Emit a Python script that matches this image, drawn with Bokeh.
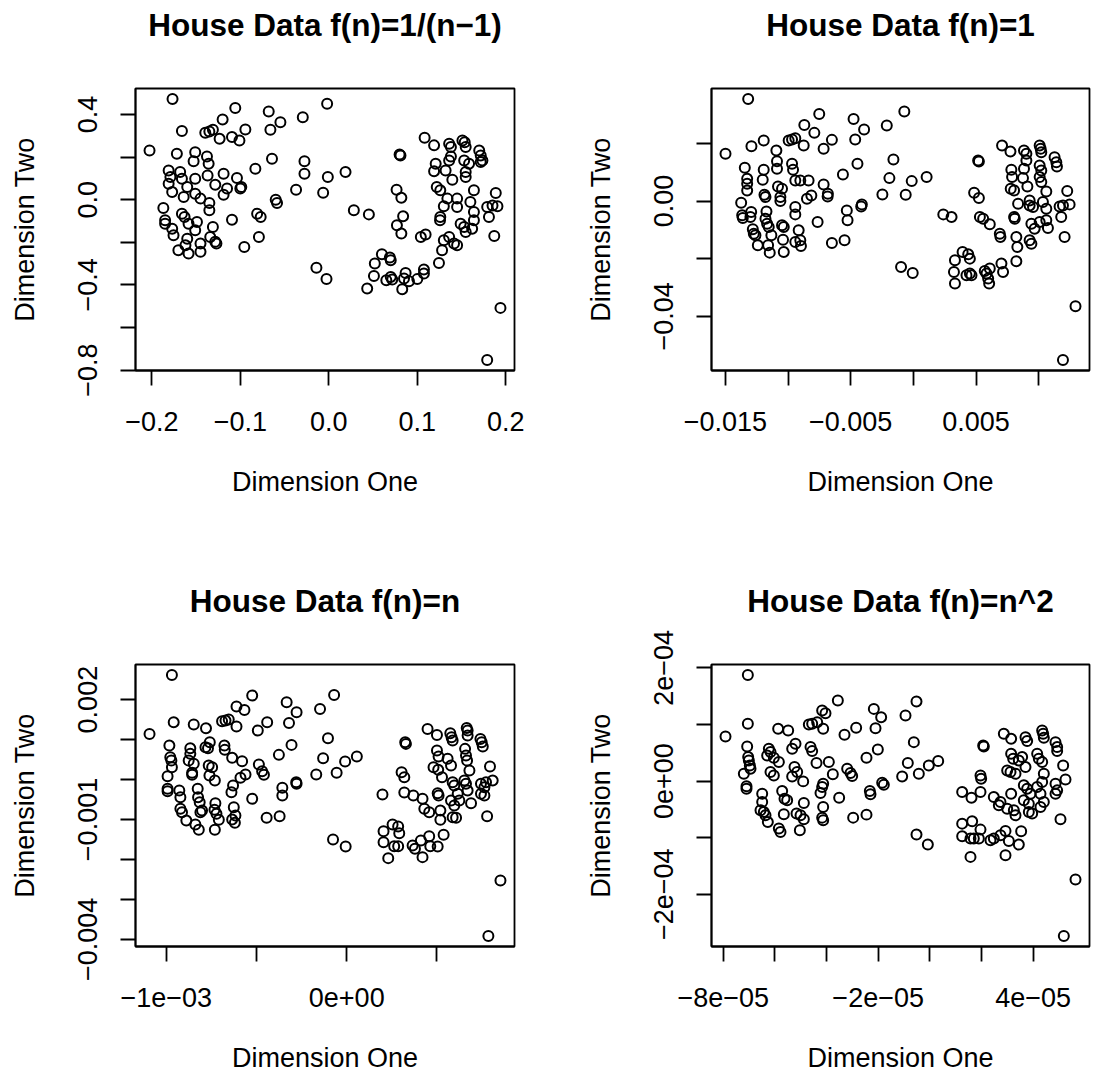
from bokeh.plotting import figure
from bokeh.layouts import gridplot
from bokeh.models import Range1d, FixedTicker, Title
from bokeh.embed import file_html
from bokeh.resources import INLINE

FONT = "Liberation Sans"

titles = ["House Data f(n)=1/(n\u22121)", "House Data f(n)=1",
          "House Data f(n)=n", "House Data f(n)=n^2"]
x_label = "Dimension One"
y_label = "Dimension Two"

# ---- Panel 1: f(n)=1/(n-1)
h1_x = [-0.1766, -0.1057, -0.0679, -0.0019, -0.0294, -0.0547, -0.0660, -0.1200, -0.1660, -0.1396,
        -0.1350, -0.1310, -0.1234, -0.1094, -0.1010, -0.0943, -0.2026, -0.1717, -0.1510, -0.1377,
        -0.1528, -0.1358, -0.0642, -0.0830, -0.0275, -0.0275, 0.0189, -0.0011, -0.0370, -0.0064,
        -0.1189, -0.1038, -0.1000, -0.0989, -0.1150, -0.1189, -0.1283, -0.1370, -0.1510, -0.1810,
        -0.1790, -0.1680, -0.1660, -0.1810, -0.1770, -0.1600, -0.1640, -0.1510, -0.1450, -0.0600,
        -0.0585, -0.1870, -0.1350, -0.1350, -0.0810, -0.0770, -0.1094, -0.1850, -0.1850, -0.1770,
        -0.1755, -0.1660, -0.1630, -0.1585, -0.1490, -0.1510, -0.1310, -0.1340, -0.1283, -0.1270,
        -0.1600, -0.1620, -0.1450, -0.1450, -0.1700, -0.1585, -0.0790, -0.0955, 0.0283, 0.0453,
        -0.0140, -0.0026, 0.1083, 0.1190, 0.0800, 0.0810, 0.1360, 0.1380, 0.1510, 0.1536,
        0.1547, 0.1700, 0.1717, 0.1736, 0.1717, 0.1208, 0.1190, 0.1360, 0.1380, 0.1320,
        0.1396, 0.1530, 0.1585, 0.1547, 0.1547, 0.1640, 0.1887, 0.1220, 0.1260, 0.0766,
        0.0820, 0.1340, 0.1450, 0.1450, 0.1300, 0.1600, 0.1640, 0.1790, 0.1850, 0.1906,
        0.1810, 0.0840, 0.0770, 0.0820, 0.1260, 0.1257, 0.1490, 0.1530, 0.1640, 0.1620,
        0.1547, 0.1870, 0.1040, 0.1094, 0.1300, 0.1360, 0.1415, 0.1450, 0.1280, 0.1245,
        0.0600, 0.0690, 0.0700, 0.0520, 0.0510, 0.0434, 0.0650, 0.0700, 0.0717, 0.0868,
        0.0850, 0.0906, 0.0830, 0.1000, 0.1075, 0.1075, 0.1940, 0.1790]
h1_y = [0.473, 0.430, 0.414, 0.450, 0.3875, 0.364, 0.328, 0.377, 0.322, 0.314,
        0.320, 0.328, 0.286, 0.294, 0.278, 0.330, 0.231, 0.216, 0.223, 0.203,
        0.180, 0.169, 0.192, 0.145, 0.180, 0.122, 0.130, 0.106, 0.047, 0.033,
        0.122, 0.102, 0.052, 0.059, 0.052, 0.023, 0.070, 0.114, 0.098, 0.1375,
        0.106, 0.130, 0.098, 0.075, 0.036, 0.059, 0.0125, 0.028, 0.005, 0.000,
        -0.016, -0.039, -0.016, -0.050, -0.066, -0.081, -0.094, -0.097, -0.1125, -0.136,
        -0.167, -0.066, -0.081, -0.1125, -0.105, -0.144, -0.128, -0.175, -0.198, -0.206,
        -0.183, -0.214, -0.206, -0.245, -0.2375, -0.253, -0.175, -0.222, -0.050, -0.069,
        -0.320, -0.372, 0.291, 0.255, 0.2125, 0.208, 0.2625, 0.247, 0.278, 0.270,
        0.247, 0.231, 0.208, 0.184, 0.177, 0.169, 0.134, 0.184, 0.203, 0.1375,
        0.094, 0.184, 0.169, 0.130, 0.106, 0.044, 0.031, 0.059, 0.044, 0.047,
        0.009, 0.005, 0.005, -0.034, -0.031, -0.011, -0.058, -0.034, -0.027, -0.031,
        -0.081, -0.078, -0.120, -0.159, -0.081, -0.097, -0.1125, -0.128, -0.097, -0.136,
        -0.152, -0.170, -0.175, -0.164, -0.191, -0.175, -0.206, -0.214, -0.2375, -0.297,
        -0.256, -0.272, -0.284, -0.300, -0.358, -0.417, -0.378, -0.3625, -0.375, -0.344,
        -0.370, -0.383, -0.420, -0.373, -0.328, -0.347, -0.508, -0.753]

# ---- Panel 2: f(n)=1
h2_x = [-0.01318, -0.01499, -0.01292, -0.01194, -0.01093, -0.00751, -0.00870, -0.00790, -0.00995, -0.00968,
        -0.00942, -0.00875, -0.00716, -0.00650, -0.00477, -0.00393, -0.00464, -0.00212, -0.00072, -0.00159,
        -0.00446, -0.00562, -0.00191, -0.00013, 0.00106, -0.00247, -0.00061, -0.00411, -0.00416, -0.00531,
        -0.00525, -0.00650, -0.00549, -0.00764, -0.00716, -0.00682, -0.00684, -0.00836, -0.00849, -0.00814,
        -0.00942, -0.00902, -0.00968, -0.00960, -0.01088, -0.01088, -0.01080, -0.01048, -0.01061, -0.01061,
        -0.01194, -0.01202, -0.01188, -0.01180, -0.01345, -0.01326, -0.01326, -0.01326, -0.01374, -0.01366,
        -0.01361, -0.01294, -0.01300, -0.01172, -0.01180, -0.01167, -0.01281, -0.01273, -0.01260, -0.01241,
        -0.01154, -0.01133, -0.01159, -0.01146, -0.01048, -0.01034, -0.01040, -0.01034, -0.00942, -0.00942,
        -0.00915, -0.00902, -0.00897, -0.00942, 0.00239, 0.00305, -0.00098, -0.00005, 0.00708, 0.00775,
        0.00517, 0.00523, 0.00883, 0.00902, 0.00902, 0.01008, 0.01016, 0.01021, 0.01127, 0.01141,
        0.01146, 0.00782, 0.00788, 0.00875, 0.00910, 0.00883, 0.01008, 0.01021, 0.01008, 0.01021,
        0.01061, 0.00777, 0.00804, 0.00485, 0.00523, 0.01228, 0.00836, 0.00928, 0.00928, 0.00955,
        0.01034, 0.01061, 0.01167, 0.01194, 0.01247, 0.01180, 0.00531, 0.00557, 0.00610, 0.00804,
        0.00809, 0.00942, 0.00968, 0.01061, 0.01074, 0.01008, 0.00690, 0.00695, 0.00822, 0.00830,
        0.00928, 0.00942, 0.01207, 0.00822, 0.00393, 0.00438, 0.00451, 0.00332, 0.00324, 0.00332,
        0.00424, 0.00451, 0.00464, 0.00570, 0.00584, 0.00597, 0.00605, 0.00703, 0.00716, 0.00610,
        0.01294, 0.01194]
h2_y = [0.03543, 0.01639, 0.01904, 0.02100, 0.01754, 0.03024, 0.02643, 0.02366, 0.02100, 0.02135,
        0.02181, 0.01927, 0.01812, 0.02123, 0.02851, 0.02481, 0.02135, 0.02620, 0.03104, 0.01443,
        0.01293, 0.00923, 0.00796, 0.00692, 0.00831, 0.00231, 0.00219, -0.00115, -0.00185, -0.00323,
        -0.00669, -0.01454, -0.01362, -0.00727, 0.00577, 0.00254, 0.00162, 0.00716, 0.00081, 0.00196,
        0.00716, 0.00716, 0.01293, 0.01085, 0.01385, 0.01119, 0.00508, 0.00427, 0.00138, 0.00000,
        0.01085, 0.00739, 0.00219, 0.00138, 0.01154, 0.00773, 0.00600, 0.00369, -0.00058, -0.00496,
        -0.00589, -0.00381, -0.00554, -0.00358, -0.00612, -0.00785, -0.00981, -0.01131, -0.01189, -0.01535,
        -0.00900, -0.01189, -0.01535, -0.01789, -0.00842, -0.00900, -0.01339, -0.01766, -0.00208, -0.00462,
        -0.01016, -0.01362, -0.01558, -0.01420, -0.00462, -0.00554, -0.02285, -0.02493, 0.01927, 0.01720,
        0.01408, 0.01373, 0.01754, 0.01639, 0.01408, 0.01927, 0.01812, 0.01696, 0.01523, 0.01350,
        0.01200, 0.01085, 0.00831, 0.00796, 0.00508, 0.01119, 0.01235, 0.01062, 0.00831, 0.00658,
        0.00335, 0.00427, 0.00369, 0.00289, 0.00104, 0.00346, -0.00092, 0.00023, -0.00150, -0.00208,
        -0.00035, -0.00265, -0.00185, -0.00150, -0.00115, -0.00554, -0.00554, -0.00612, -0.00808, -0.00554,
        -0.00612, -0.00785, -0.00958, -0.00669, -0.00935, -0.00727, -0.01131, -0.01246, -0.01246, -0.01593,
        -0.01362, -0.01477, -0.01246, -0.02089, -0.01766, -0.01847, -0.01997, -0.02054, -0.02458, -0.02862,
        -0.02574, -0.02516, -0.02574, -0.02424, -0.02516, -0.02689, -0.02862, -0.02170, -0.02458, -0.02343,
        -0.03647, -0.05516]

# ---- Panel 3: f(n)=n
h3_x = [-0.969e-3, -1.093e-3, -0.959e-3, -0.848e-3, -0.780e-3, -0.611e-3, -0.567e-3, -0.524e-3, -0.691e-3, -0.672e-3,
        -0.654e-3, -0.611e-3, -0.493e-3, -0.441e-3, -0.333e-3, -0.278e-3, -0.320e-3, -0.148e-3, -0.070e-3, -0.104e-3,
        -0.306e-3, -0.376e-3, -0.131e-3, -0.009e-3, 0.056e-3, -0.169e-3, -0.056e-3, -0.280e-3, -0.278e-3, -0.357e-3,
        -0.357e-3, -0.444e-3, -0.372e-3, -0.524e-3, -0.487e-3, -0.469e-3, -0.459e-3, -0.580e-3, -0.589e-3, -0.561e-3,
        -0.635e-3, -0.630e-3, -0.639e-3, -0.678e-3, -0.676e-3, -0.759e-3, -0.769e-3, -0.783e-3, -0.765e-3, -0.746e-3,
        -0.761e-3, -0.731e-3, -0.867e-3, -0.867e-3, -0.876e-3, -0.848e-3, -0.857e-3, -0.857e-3, -0.983e-3, -0.978e-3,
        -0.972e-3, -0.969e-3, -0.993e-3, -0.993e-3, -0.993e-3, -0.928e-3, -0.922e-3, -0.826e-3, -0.824e-3, -0.815e-3,
        -0.922e-3, -0.913e-3, -0.889e-3, -0.839e-3, -0.820e-3, -0.811e-3, -0.802e-3, -0.728e-3, -0.733e-3, -0.722e-3,
        -0.709e-3, -0.731e-3, -0.626e-3, -0.617e-3, -0.635e-3, -0.620e-3, -0.076e-3, -0.006e-3, 0.198e-3, 0.319e-3,
        0.448e-3, 0.500e-3, 0.324e-3, 0.328e-3, 0.574e-3, 0.581e-3, 0.587e-3, 0.665e-3, 0.670e-3, 0.670e-3,
        0.741e-3, 0.748e-3, 0.754e-3, 0.500e-3, 0.509e-3, 0.559e-3, 0.578e-3, 0.481e-3, 0.507e-3, 0.528e-3,
        0.656e-3, 0.661e-3, 0.667e-3, 0.680e-3, 0.794e-3, 0.304e-3, 0.319e-3, 0.809e-3, 0.587e-3, 0.596e-3,
        0.652e-3, 0.661e-3, 0.670e-3, 0.744e-3, 0.763e-3, 0.772e-3, 0.744e-3, 0.763e-3, 0.504e-3, 0.509e-3,
        0.615e-3, 0.624e-3, 0.689e-3, 0.578e-3, 0.596e-3, 0.369e-3, 0.420e-3, 0.430e-3, 0.457e-3, 0.519e-3,
        0.519e-3, 0.587e-3, 0.606e-3, 0.778e-3, 0.254e-3, 0.285e-3, 0.291e-3, 0.204e-3, 0.204e-3, 0.230e-3,
        0.263e-3, 0.285e-3, 0.365e-3, 0.378e-3, 0.411e-3, 0.457e-3, 0.463e-3, 0.504e-3, 0.537e-3, 0.420e-3,
        0.852e-3, 0.785e-3]
h3_y = [2.617e-3, 1.142e-3, 1.433e-3, 1.375e-3, 1.283e-3, 1.825e-3, 1.742e-3, 2.100e-3, 1.458e-3, 1.475e-3,
        1.500e-3, 1.325e-3, 1.225e-3, 1.433e-3, 1.933e-3, 1.683e-3, 1.417e-3, 1.767e-3, 2.117e-3, 1.033e-3,
        0.867e-3, 0.617e-3, 0.533e-3, 0.450e-3, 0.575e-3, 0.125e-3, 0.167e-3, -0.067e-3, -0.108e-3, -0.208e-3,
        -0.400e-3, -0.958e-3, -0.917e-3, -0.483e-3, 0.375e-3, 0.208e-3, 0.117e-3, 0.458e-3, 0.042e-3, 0.125e-3,
        0.542e-3, -0.150e-3, -0.317e-3, 0.850e-3, 0.742e-3, 0.933e-3, 0.783e-3, 0.808e-3, 0.350e-3, 0.308e-3,
        0.100e-3, -0.025e-3, 0.783e-3, 0.642e-3, 0.475e-3, 0.392e-3, 0.167e-3, 0.117e-3, 0.850e-3, 0.558e-3,
        0.475e-3, 0.308e-3, 0.083e-3, -0.233e-3, -0.292e-3, -0.275e-3, -0.442e-3, -0.233e-3, -0.442e-3, -0.567e-3,
        -0.733e-3, -0.817e-3, -1.025e-3, -1.125e-3, -1.258e-3, -0.817e-3, -0.775e-3, -0.592e-3, -0.758e-3, -0.858e-3,
        -1.008e-3, -1.258e-3, -0.692e-3, -0.900e-3, -1.000e-3, -1.083e-3, -1.500e-3, -1.675e-3, -0.375e-3, -0.325e-3,
        1.267e-3, 1.117e-3, 0.933e-3, 0.892e-3, 1.158e-3, 1.058e-3, 0.975e-3, 1.292e-3, 1.225e-3, 1.100e-3,
        1.017e-3, 0.933e-3, 0.825e-3, 0.725e-3, 0.575e-3, 0.517e-3, 0.350e-3, 0.308e-3, 0.242e-3, 0.058e-3,
        0.767e-3, 0.600e-3, 0.475e-3, 0.225e-3, 0.325e-3, 0.183e-3, 0.058e-3, -0.025e-3, -0.067e-3, -0.150e-3,
        -0.025e-3, -0.108e-3, -0.275e-3, -0.108e-3, -0.192e-3, -0.067e-3, -0.358e-3, -0.400e-3, -0.342e-3, -0.400e-3,
        -0.358e-3, -0.525e-3, -0.592e-3, -0.525e-3, -0.650e-3, -0.400e-3, -0.483e-3, -0.733e-3, -0.817e-3, -0.775e-3,
        -1.008e-3, -0.942e-3, -0.958e-3, -0.917e-3, -1.125e-3, -1.175e-3, -1.342e-3, -1.292e-3, -1.567e-3, -1.967e-3,
        -1.667e-3, -1.667e-3, -1.650e-3, -1.733e-3, -1.525e-3, -1.417e-3, -1.667e-3, -1.675e-3, -1.383e-3, -1.942e-3,
        -2.525e-3, -3.917e-3]

# ---- Panel 4: f(n)=n^2
h4_x = [-7.045e-5, -7.910e-5, -7.045e-5, -7.071e-5, -7.032e-5, -7.006e-5, -6.968e-5, -6.942e-5, -7.200e-5, -7.097e-5,
        -7.097e-5, -5.871e-5, -5.484e-5, -6.232e-5, -6.168e-5, -6.297e-5, -6.039e-5, -5.845e-5, -6.168e-5, -6.039e-5,
        -5.329e-5, -5.200e-5, -5.239e-5, -5.135e-5, -5.329e-5, -4.903e-5, -4.684e-5, -4.555e-5, -4.361e-5, -4.129e-5,
        -4.168e-5, -4.039e-5, -3.561e-5, -4.619e-5, -4.555e-5, -4.387e-5, -3.910e-5, -3.755e-5, -4.129e-5, -4.168e-5,
        -4.232e-5, -3.303e-5, -2.852e-5, -2.168e-5, -1.884e-5, -2.103e-5, -2.013e-5, -2.452e-5, -3.200e-5, -3.071e-5,
        -3.006e-5, -2.323e-5, -2.297e-5, -1.845e-5, -1.781e-5, -3.510e-5, -6.490e-5, -6.490e-5, -6.555e-5, -6.426e-5,
        -6.361e-5, -6.271e-5, -5.716e-5, -5.626e-5, -5.523e-5, -5.652e-5, -5.845e-5, -5.781e-5, -5.161e-5, -5.006e-5,
        -4.877e-5, -4.877e-5, -5.032e-5, -4.129e-5, -4.168e-5, -4.129e-5, -2.968e-5, -2.452e-5, -0.942e-5, -0.516e-5,
        -0.619e-5, -0.852e-5, -1.071e-5, -0.426e-5, -0.039e-5, 0.323e-5, -0.516e-5, -0.077e-5, 2.865e-5, 3.148e-5,
        2.065e-5, 2.090e-5, 3.703e-5, 3.768e-5, 4.348e-5, 4.387e-5, 4.413e-5, 4.865e-5, 4.929e-5, 4.929e-5,
        3.148e-5, 3.226e-5, 3.574e-5, 3.703e-5, 3.445e-5, 4.155e-5, 4.219e-5, 4.348e-5, 4.413e-5, 4.348e-5,
        5.161e-5, 5.252e-5, 2.994e-5, 3.123e-5, 3.316e-5, 1.961e-5, 1.987e-5, 1.961e-5, 1.252e-5, 1.613e-5,
        2.477e-5, 2.735e-5, 2.671e-5, 3.148e-5, 2.994e-5, 3.252e-5, 3.316e-5, 3.639e-5, 3.768e-5, 3.897e-5,
        3.639e-5, 3.832e-5, 4.155e-5, 4.284e-5, 4.413e-5, 4.284e-5, 3.832e-5, 3.961e-5, 4.865e-5, 4.929e-5,
        4.865e-5, 5.058e-5, 1.252e-5, 1.639e-5, 1.961e-5, 1.252e-5, 1.574e-5, 1.703e-5, 1.897e-5, 2.348e-5,
        2.477e-5, 2.735e-5, 2.929e-5, 3.058e-5, 3.445e-5, 3.535e-5, 1.574e-5, 2.929e-5, 5.639e-5, 5.187e-5]
h4_y = [1.876e-4, 0.788e-4, 1.012e-4, 0.612e-4, 0.424e-4, 0.365e-4, 0.276e-4, 0.218e-4, 0.129e-4, -0.094e-4,
        -0.135e-4, 0.924e-4, 0.894e-4, 0.571e-4, 0.512e-4, 0.453e-4, 0.412e-4, 0.335e-4, 0.159e-4, 0.100e-4,
        0.571e-4, 0.659e-4, 0.247e-4, 0.159e-4, 0.082e-4, -0.006e-4, 1.000e-4, 1.012e-4, 1.041e-4, 0.924e-4,
        1.247e-4, 1.200e-4, 1.424e-4, 0.600e-4, 0.529e-4, 0.318e-4, 0.335e-4, 0.118e-4, -0.047e-4, -0.106e-4,
        -0.212e-4, 0.818e-4, 0.941e-4, 1.276e-4, 1.129e-4, 0.935e-4, 0.559e-4, 0.412e-4, 0.218e-4, 0.141e-4,
        0.088e-4, -0.176e-4, -0.235e-4, -0.029e-4, -0.065e-4, -0.294e-4, -0.224e-4, -0.371e-4, -0.518e-4, -0.547e-4,
        -0.606e-4, -0.724e-4, -0.176e-4, -0.312e-4, -0.341e-4, -0.588e-4, -0.841e-4, -0.900e-4, -0.576e-4, -0.606e-4,
        -0.388e-4, -0.676e-4, -0.871e-4, -0.459e-4, -0.647e-4, -0.694e-4, -0.647e-4, -0.594e-4, 1.159e-4, 1.406e-4,
        0.688e-4, 0.318e-4, 0.082e-4, 0.129e-4, 0.276e-4, 0.353e-4, -0.947e-4, -1.124e-4, 0.835e-4, 0.747e-4,
        0.629e-4, 0.612e-4, 0.776e-4, 0.706e-4, 0.894e-4, 0.835e-4, 0.765e-4, 0.688e-4, 0.600e-4, 0.529e-4,
        0.482e-4, 0.394e-4, 0.424e-4, 0.247e-4, 0.365e-4, 0.482e-4, 0.394e-4, 0.335e-4, 0.129e-4, -0.018e-4,
        0.276e-4, 0.029e-4, 0.188e-4, 0.159e-4, 0.129e-4, 0.100e-4, 0.041e-4, -0.194e-4, -0.194e-4, -0.294e-4,
        -0.282e-4, -0.371e-4, -0.429e-4, -0.224e-4, -0.488e-4, -0.518e-4, -0.606e-4, -0.076e-4, -0.135e-4, -0.224e-4,
        -0.341e-4, -0.400e-4, -0.106e-4, -0.224e-4, -0.371e-4, -0.459e-4, -0.547e-4, -0.576e-4, -0.047e-4, -0.165e-4,
        -0.224e-4, -0.676e-4, -0.753e-4, -0.712e-4, -0.859e-4, -0.976e-4, -1.018e-4, -1.018e-4, -1.018e-4, -1.047e-4,
        -1.018e-4, -0.959e-4, -0.882e-4, -1.059e-4, -1.124e-4, -0.888e-4, -1.341e-4, -1.312e-4, -1.741e-4, -2.741e-4]

# ---- Tick positions and labels (R hides overlapping labels)
p1_xticks = [-0.2, -0.1, 0.0, 0.1, 0.2]
p1_xlabels = ["\u22120.2", "\u22120.1", "0.0", "0.1", "0.2"]
p1_yticks = [-0.8, -0.6, -0.4, -0.2, 0.0, 0.2, 0.4]
p1_ylabels = ["\u22120.8", "", "\u22120.4", "", "0.0", "", "0.4"]
p2_xticks = [-0.015, -0.01, -0.005, 0.0, 0.005, 0.01]
p2_xlabels = ["\u22120.015", "", "\u22120.005", "", "0.005", ""]
p2_yticks = [-0.04, -0.02, 0.0, 0.02]
p2_ylabels = ["\u22120.04", "", "0.00", ""]
p3_xticks = [-1e-3, -5e-4, 0.0, 5e-4]
p3_xlabels = ["\u22121e\u221203", "", "0e+00", ""]
p3_yticks = [-0.004, -0.003, -0.002, -0.001, 0.0, 0.001, 0.002]
p3_ylabels = ["\u22120.004", "", "", "\u22120.001", "", "", "0.002"]
p4_xticks = [-8e-5, -6e-5, -4e-5, -2e-5, 0.0, 2e-5, 4e-5]
p4_xlabels = ["\u22128e\u221205", "", "", "\u22122e\u221205", "", "", "4e\u221205"]
p4_yticks = [-2e-4, -1e-4, 0.0, 1e-4, 2e-4]
p4_ylabels = ["\u22122e\u221204", "", "0e+00", "", "2e\u221204"]


def padded(v):
    lo, hi = min(v), max(v)
    d = (hi - lo) * 0.04
    return Range1d(lo - d, hi + d)


def make_panel(title, xs, ys, xt, xl, yt, yl, left, right, top, bottom):
    p = figure(width=548, height=538, x_range=padded(xs), y_range=padded(ys),
               output_backend="svg", toolbar_location=None,
               min_border_left=left, min_border_right=right,
               min_border_top=top, min_border_bottom=bottom,
               background_fill_color="white", border_fill_color="white")
    # spacer between frame and title, then the title itself (stacked outward)
    p.add_layout(Title(text=" ", text_font_size="2px", standoff=42), "above")
    p.add_layout(Title(text=title, text_font=FONT, text_font_size="31.5px",
                       text_font_style="bold", text_color="black",
                       align="center", standoff=0), "above")
    p.outline_line_color = "black"
    p.outline_line_width = 1.8
    p.outline_line_alpha = 1.0
    p.grid.visible = False
    for ax, ticks, labels, lab in ((p.xaxis[0], xt, xl, x_label), (p.yaxis[0], yt, yl, y_label)):
        ax.ticker = FixedTicker(ticks=ticks, minor_ticks=[])
        ax.major_label_overrides = dict(zip(ticks, labels))
        ax.axis_label = lab
        ax.axis_label_text_font = FONT
        ax.axis_label_text_font_size = "27px"
        ax.axis_label_text_font_style = "normal"
        ax.axis_label_text_color = "black"
        ax.major_label_text_font = FONT
        ax.major_label_text_font_size = "27px"
        ax.major_label_text_color = "black"
        ax.axis_line_color = "black"
        ax.axis_line_width = 1.8
        ax.major_tick_line_color = "black"
        ax.major_tick_line_width = 1.8
        ax.major_tick_out = 15
        ax.major_tick_in = 0
        ax.minor_tick_line_color = None
    p.xaxis[0].major_label_standoff = 26
    p.xaxis[0].axis_label_standoff = 33
    p.yaxis[0].major_label_orientation = "parallel"
    p.yaxis[0].major_label_standoff = 23
    p.yaxis[0].axis_label_standoff = 36
    p.scatter(xs, ys, marker="circle", size=10, fill_color=None,
              line_color="black", line_width=2.0)
    return p


p1 = make_panel(titles[0], h1_x, h1_y, p1_xticks, p1_xlabels, p1_yticks, p1_ylabels, 135, 34, 88, 168)
p2 = make_panel(titles[1], h2_x, h2_y, p2_xticks, p2_xlabels, p2_yticks, p2_ylabels, 163, 7, 88, 168)
p3 = make_panel(titles[2], h3_x, h3_y, p3_xticks, p3_xlabels, p3_yticks, p3_ylabels, 135, 34, 126, 130)
p4 = make_panel(titles[3], h4_x, h4_y, p4_xticks, p4_xlabels, p4_yticks, p4_ylabels, 163, 7, 126, 130)

grid = gridplot([[p1, p2], [p3, p4]], toolbar_location=None)

with open("out.html", "w") as f:
    f.write(file_html(grid, INLINE))
